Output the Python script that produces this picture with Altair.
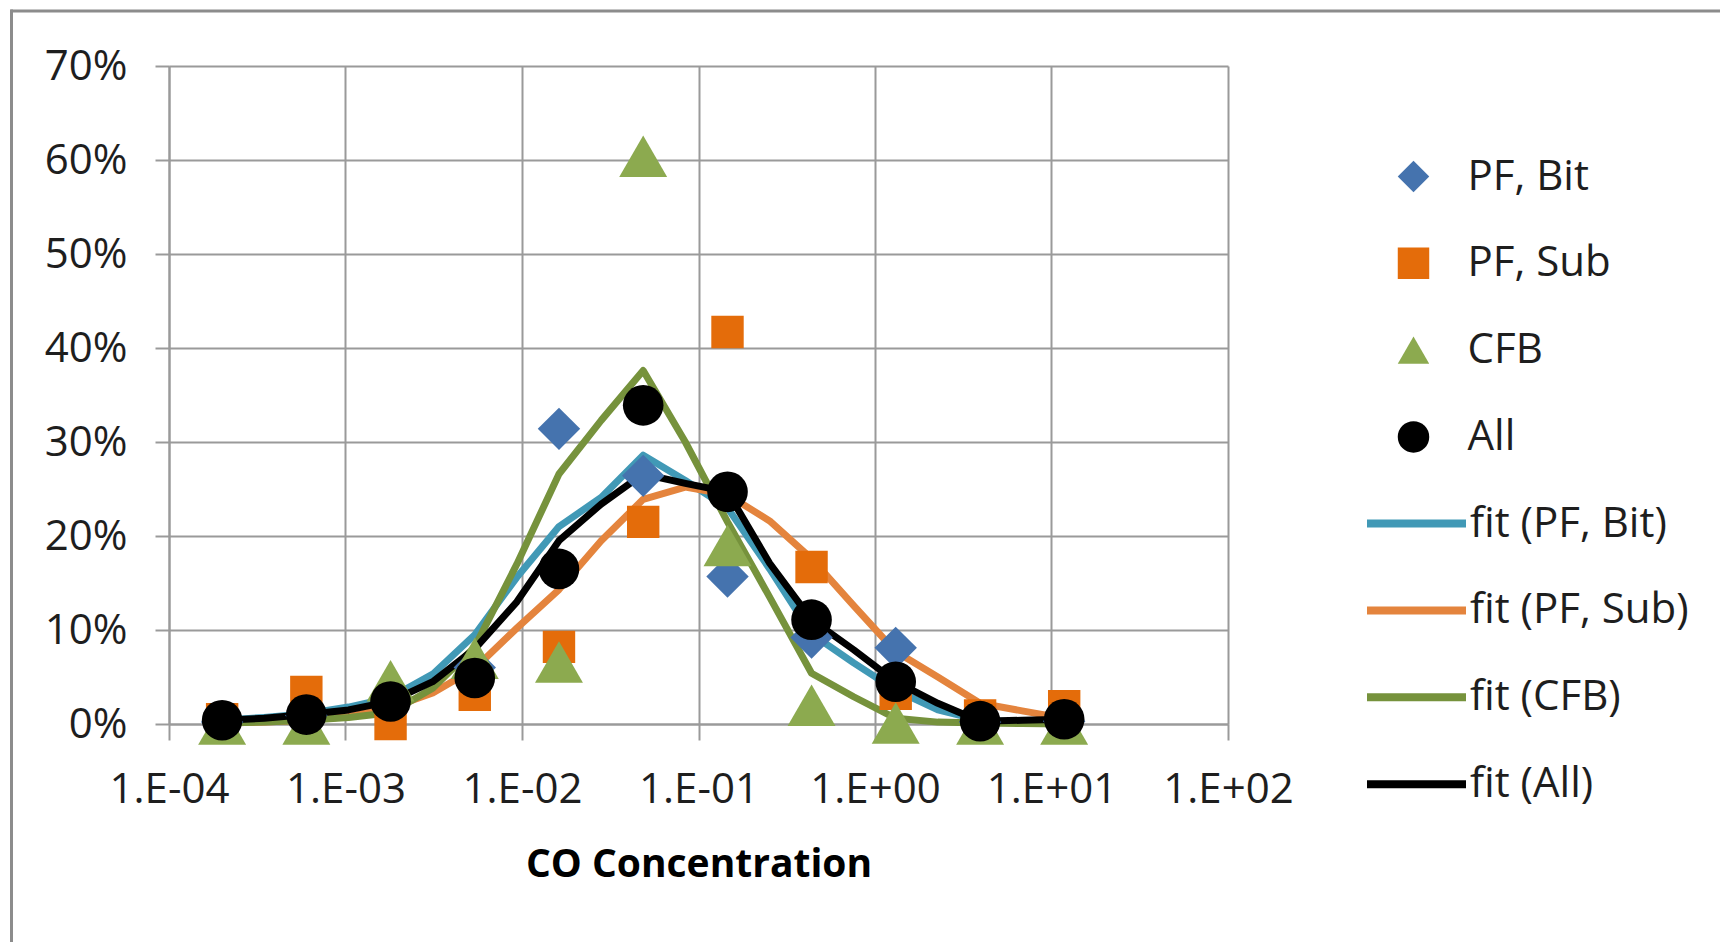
import altair as alt
import pandas as pd

# ---- data ----
x_points = [2.0e-4, 6.0e-4, 1.8e-3, 5.4e-3, 1.62e-2, 4.86e-2, 1.46e-1, 4.37e-1, 1.31, 3.94, 11.8]
pf_bit = [0.2, 0.9, 2.5, 6.0, 31.4, 26.4, 15.7, 9.2, 8.1, 0.2, 0.3]
pf_sub = [0.5, 3.4, 0.0, 3.1, 8.2, 21.5, 41.7, 16.7, 3.2, 0.9, 1.9]
cfb = [0.0, 0.0, 4.6, 7.0, 6.6, 60.4, 19.0, 2.0, 0.1, 0.0, 0.0]
all_pts = [0.4, 1.0, 2.4, 4.9, 16.5, 33.9, 24.7, 11.1, 4.5, 0.3, 0.5]

x_fit = [2.0e-4, 3.46e-4, 6.0e-4, 1.04e-3, 1.8e-3, 3.12e-3, 5.4e-3, 9.35e-3, 1.62e-2, 2.81e-2,
         4.86e-2, 8.42e-2, 1.46e-1, 2.53e-1, 4.37e-1, 7.57e-1, 1.31, 2.27, 3.94, 6.82, 11.8]
fit_bit = [0.4, 0.7, 1.1, 1.8, 2.8, 5.3, 9.5, 15.6, 21.0, 24.1, 28.6, 25.9, 23.0, 16.5, 9.6, 6.5, 3.6, 1.5, 0.4, 0.2, 0.1]
fit_sub = [0.1, 0.2, 0.4, 0.8, 1.7, 3.3, 5.9, 10.2, 14.3, 19.5, 23.9, 25.2, 24.4, 21.6, 17.6, 12.6, 7.7, 5.0, 2.2, 1.4, 0.6]
fit_cfb = [0.1, 0.2, 0.4, 0.7, 1.2, 3.8, 8.2, 17.0, 26.6, 32.3, 37.6, 30.0, 21.5, 13.5, 5.4, 2.9, 0.6, 0.2, 0.1, 0.05, 0.0]
fit_all = [0.4, 0.6, 1.0, 1.5, 2.4, 4.5, 8.0, 13.0, 19.5, 23.4, 26.6, 25.6, 24.7, 17.1, 11.1, 7.9, 4.5, 2.2, 0.3, 0.4, 0.5]

series_names = ["PF, Bit", "PF, Sub", "CFB", "All"]
fit_names = ["fit (PF, Bit)", "fit (PF, Sub)", "fit (CFB)", "fit (All)"]
marker_shapes = ["diamond", "square", "triangle-up", "circle"]
marker_colors = ["#4573AE", "#E46C0A", "#8CAA4F", "#000000"]
marker_sizes = [1800, 1050, 2300, 1650]
line_colors = ["#4199B6", "#E4843D", "#76923C", "#000000"]

x_tick_values = [1e-4, 1e-3, 1e-2, 1e-1, 1e0, 1e1, 1e2]
x_tick_labels = ["1.E-04", "1.E-03", "1.E-02", "1.E-01", "1.E+00", "1.E+01", "1.E+02"]
y_tick_values = [0.0, 0.1, 0.2, 0.3, 0.4, 0.5, 0.6, 0.7]
x_title = "CO Concentration"

# ---- tables ----
pts_rows = []
for name, vals, msize in zip(series_names, [pf_bit, pf_sub, cfb, all_pts], marker_sizes):
    for x, v in zip(x_points, vals):
        pts_rows.append({"x": x, "y": v / 100.0, "series": name, "msize": msize})
pts = pd.DataFrame(pts_rows)

fit_rows = []
for name, vals in zip(fit_names, [fit_bit, fit_sub, fit_cfb, fit_all]):
    for x, v in zip(x_fit, vals):
        fit_rows.append({"x": x, "y": v / 100.0, "fit": name})
fits = pd.DataFrame(fit_rows)

FONT = "Open Sans"
GRID = "#9a9a9a"
TXT = "#1e1e1e"

label_expr = "[" + ",".join("'%s'" % s for s in x_tick_labels) + "][round(log(datum.value)/LN10)+4]"

x_enc = alt.X(
    "x:Q",
    scale=alt.Scale(type="log", domain=[1e-4, 1e2], nice=False),
    axis=alt.Axis(
        values=x_tick_values, labelExpr=label_expr, title=x_title,
        titleFont=FONT, titleFontSize=39, titleFontWeight="bold", titleColor="#000000",
        titleY=152, titleBaseline="alphabetic",
        labelFont=FONT, labelFontSize=42, labelColor=TXT, labelBaseline="alphabetic",
        labelPadding=62, labelFlush=False, labelOverlap=False,
        tickSize=16, tickColor=GRID, tickWidth=2,
        grid=True, gridColor=GRID, gridWidth=2,
        domainColor=GRID, domainWidth=2,
    ),
)
y_enc = alt.Y(
    "y:Q",
    scale=alt.Scale(domain=[0, 0.7], nice=False),
    axis=alt.Axis(
        values=y_tick_values, format=".0%", title=None,
        labelFont=FONT, labelFontSize=42, labelColor=TXT, labelBaseline="middle",
        labelPadding=28, labelFlush=False, labelOverlap=False,
        tickSize=14, tickColor=GRID, tickWidth=2,
        grid=True, gridColor=GRID, gridWidth=2,
        domainColor=GRID, domainWidth=2,
    ),
)

pt_legend = alt.Legend(
    orient="none", legendX=1223.5, legendY=89.5, title=None, padding=0,
    labelFont=FONT, labelFontSize=42, labelColor=TXT, labelOffset=33, labelLimit=500,
    symbolSize=990, symbolStrokeWidth=0, rowPadding=44.8,
)
line_legend = alt.Legend(
    orient="none", legendX=1194, legendY=404, title=None, padding=0,
    labelFont=FONT, labelFontSize=42, labelColor=TXT, labelOffset=0, labelLimit=500,
    symbolType="stroke", symbolSize=9801, symbolStrokeWidth=8, rowPadding=11.9,
)

lines = alt.Chart(fits).mark_line(strokeWidth=7, strokeJoin="round").encode(
    x=x_enc, y=y_enc,
    stroke=alt.Stroke("fit:N", scale=alt.Scale(domain=fit_names, range=line_colors), legend=line_legend),
)

points = alt.Chart(pts).mark_point(filled=True, opacity=1, strokeWidth=0).encode(
    x=x_enc, y=y_enc,
    shape=alt.Shape("series:N", scale=alt.Scale(domain=series_names, range=marker_shapes), legend=pt_legend),
    fill=alt.Fill("series:N", scale=alt.Scale(domain=series_names, range=marker_colors), legend=pt_legend),
    size=alt.Size("msize:Q", scale=None, legend=None),
)

frame_df = pd.DataFrame({"k": [0]})
frame_top = alt.Chart(frame_df).mark_rule(stroke="#8c8c8c", strokeWidth=3).encode(
    x=alt.value(-158.5), x2=alt.value(1551), y=alt.value(-55)
)
frame_left = alt.Chart(frame_df).mark_rule(stroke="#8c8c8c", strokeWidth=3).encode(
    x=alt.value(-157.5), y=alt.value(-56.5), y2=alt.value(876)
)

chart = alt.layer(lines, points, frame_top, frame_left).resolve_scale(
    fill="independent", stroke="independent", shape="independent"
).properties(
    width=1059, height=658,
    padding={"left": 169, "top": 66, "right": 492, "bottom": 218},
    autosize=alt.AutoSizeParams(type="none"),
    background="#ffffff",
).configure_view(stroke=None)

chart.save("out.html", embed_options={"renderer": "svg", "actions": False})
